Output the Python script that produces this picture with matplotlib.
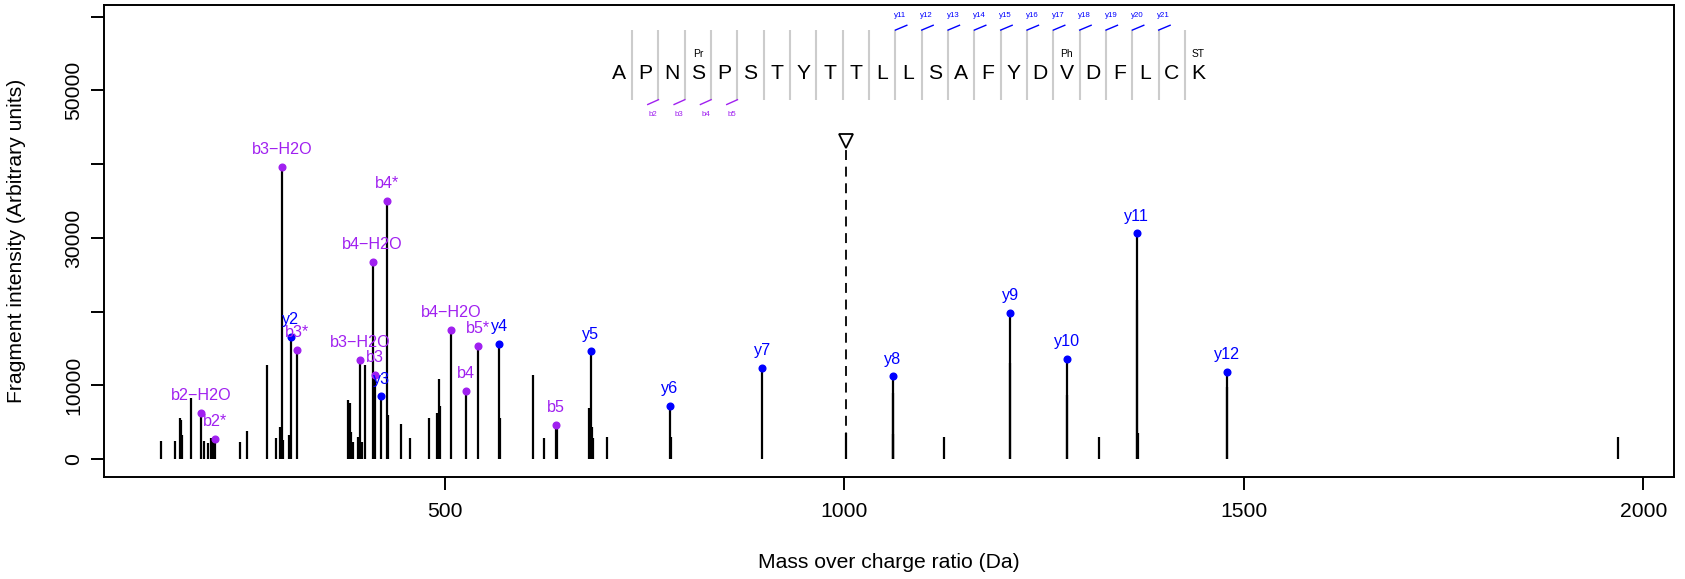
import numpy as np
import matplotlib
matplotlib.use('Agg')
import matplotlib.pyplot as plt

plt.rcParams['font.family'] = ['Liberation Sans', 'DejaVu Sans']

# unmatched fragment peaks (m/z, intensity)
peak_mz = [145, 162, 168, 169.5, 170.5, 182.5, 198.5, 204, 207.5, 209.5,
           243.5, 252.5, 278, 289, 293.5, 297.5, 304.5, 379.3, 381, 383,
           385, 391.4, 396, 399.7, 428.5, 445.7, 456.5, 480.5, 490.2, 492.5,
           494.4, 569, 610.5, 624.2, 640.5, 681, 684.2, 685.5, 702.6, 782.5,
           1002, 1061, 1061.5, 1125, 1208, 1279, 1318.3, 1366.5, 1367, 1479,
           1967.8]
peak_int = [2500, 2500, 5500, 5300, 3300, 8300, 2400, 2200, 2900, 2900,
            2300, 3800, 12800, 2800, 4400, 2600, 3300, 8000, 7600, 3600,
            2300, 3000, 2300, 12700, 6000, 4800, 2800, 5600, 6200, 10800,
            7200, 5600, 11400, 2800, 4300, 6900, 4400, 2800, 3000, 3000,
            3500, 8900, 3400, 3000, 13000, 8700, 3000, 21600, 3500, 9800,
            3000]

# matched b ions
b_labels = ['b2-H2O', 'b2*', 'b3-H2O', 'b3*', 'b3-H2O', 'b4-H2O', 'b3',
            'b4*', 'b4-H2O', 'b4', 'b5*', 'b5']
b_mz = [195.1, 213, 296.1, 314.5, 394.2, 409.6, 412.5, 427.7, 507.5, 526,
        541, 639.5]
b_int = [6300, 2700, 39600, 14800, 13400, 26700, 11400, 35000, 17500, 9200,
         15400, 4600]

# matched y ions
y_labels = ['y2', 'y3', 'y4', 'y5', 'y6', 'y7', 'y8', 'y9', 'y10', 'y11', 'y12']
y_mz = [307, 420.7, 568, 682.5, 782, 897.2, 1060.5, 1207.6, 1278.6, 1366,
        1478.6]
y_int = [16600, 8500, 15600, 14600, 7200, 12400, 11200, 19800, 13600, 30600,
         11800]

precursor_mz = 1002
precursor_int = 43200

sequence = list("APNSPSTYTTLLSAFYDVDFLCK")
mods = {3: 'Pr', 17: 'Ph', 22: 'ST'}
b_ladder = [2, 3, 4, 5]
y_ladder = list(range(11, 22))

purple = '#A020F0'
blue = '#0000FF'

fig = plt.figure(figsize=(16.85, 5.79), dpi=100)
ax = fig.add_axes([104 / 1685, 102 / 579, 1570 / 1685, 472 / 579])

ax.vlines(peak_mz, 0, peak_int, color='black', lw=1.6)
ax.vlines(b_mz, 0, b_int, color='black', lw=1.6)
ax.vlines(y_mz, 0, y_int, color='black', lw=1.6)

# precursor
ax.vlines(precursor_mz, 0, precursor_int, color='black', lw=1.3,
          linestyles=(0, (5.5, 3.7)))
ax.plot(precursor_mz, precursor_int, marker='v', ms=10, mfc='white',
        mec='black', mew=1.3)

ax.plot(b_mz, b_int, 'o', color=purple, ms=4.8)
ax.plot(y_mz, y_int, 'o', color=blue, ms=4.8)
for lab, x, y in zip(b_labels, b_mz, b_int):
    ax.annotate(lab.replace('-', '\u2212'), (x, y), xytext=(0, 12.5),
                textcoords='offset points', ha='center', va='center',
                fontsize=11.6, color=purple)
for lab, x, y in zip(y_labels, y_mz, y_int):
    ax.annotate(lab, (x, y), xytext=(0, 12.5), textcoords='offset points',
                ha='center', va='center', fontsize=11.6, color=blue)

# peptide sequence with fragment ladder
seq_start = 718
seq_step = 32.95
seq_x = seq_start + np.arange(len(sequence)) * seq_step
sep_x = seq_x[:-1] + seq_step / 2
for i, aa in enumerate(sequence):
    ax.text(seq_x[i], 51600, aa, ha='center', va='baseline', fontsize=15.2)
    if i in mods:
        ax.text(seq_x[i], 54500, mods[i], ha='center', va='baseline', fontsize=7.4)
ax.vlines(sep_x, 48700, 58200, color='#cccccc', lw=1.5)
for k in b_ladder:
    sx = sep_x[k - 1]
    ax.plot([sx - 13.4, sx], [48100, 48750], color=purple, lw=1)
    ax.text(sx - 7, 46800, 'b%d' % k, ha='center', va='center',
            fontsize=5.7, color=purple)
for k in y_ladder:
    sx = sep_x[k - 1]
    ax.plot([sx, sx + 14.3], [58200, 58850], color=blue, lw=1)
    ax.text(sx + 6.3, 60200, 'y%d' % k, ha='center', va='center',
            fontsize=5.7, color=blue)

ax.set_xlim(73.5, 2038.4)
ax.set_ylim(-2440, 61600)
ax.set_xticks([500, 1000, 1500, 2000])
ax.set_yticks(range(0, 60001, 10000))
ax.set_yticklabels(['0', '10000', '', '30000', '', '50000', ''])
ax.tick_params(direction='out', length=9.1, width=1.4, labelsize=15.2)
ax.tick_params(axis='x', pad=9)
ax.tick_params(axis='y', pad=6)
for lbl in ax.get_yticklabels():
    lbl.set_rotation(90)
    lbl.set_va('center')
for s in ax.spines.values():
    s.set_linewidth(1.4)

ax.set_xlabel('Mass over charge ratio (Da)', fontsize=15.2)
ax.set_ylabel('Fragment intensity (Arbitrary units)', fontsize=15.2)
ax.xaxis.label.set_va('center')
ax.xaxis.set_label_coords(0.5, (477 - 562) / 472)
ax.yaxis.label.set_va('center')
ax.yaxis.set_label_coords((17 - 104) / 1570, 0.5)

fig.savefig('out.png', dpi=100)
